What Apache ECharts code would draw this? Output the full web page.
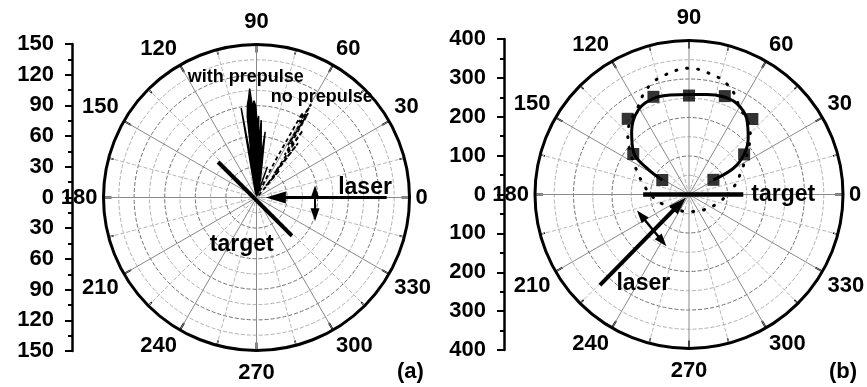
<!DOCTYPE html>
<html><head><meta charset="utf-8">
<script src="https://cdn.jsdelivr.net/npm/echarts@6/dist/echarts.min.js"></script>
<style>html,body{margin:0;padding:0;background:#fff}#c{width:867px;height:387px}</style>
</head><body><div id="c"></div>
<script>
// ---------- Panel (a) data ----------
const withPrepulseAngle = [70, 70.5, 72, 78, 82.5, 83.5, 86.5, 87.5, 88.5, 89.5, 90.5, 91.5, 92.5, 93.6, 94.5, 95.5, 96.5, 97.5, 99.7, 100.5, 103];
const withPrepulseR     = [2, 32, 3, 20, 65, 40, 76, 50, 80, 72, 90, 95, 88, 107, 98, 92, 80, 30, 89, 20, 3];
const noPrepulseAngle = [45, 49.8, 51, 52.6, 53.5, 55.4, 56.5, 58.5, 59, 59.6, 60.5, 61.5, 63, 66];
const noPrepulseR     = [3, 35, 15, 67, 30, 80, 50, 97, 60, 106, 85, 95, 40, 3];
// annotation lines (radius, angle)
const targetA_R = [51.3, 51.3], targetA_Angle = [137.3, 312.7];
const laserA_R = [127.6, 19], laserA_Angle = [0, 0];
const polA_R = [57.6, 59.8], polA_Angle = [5.4, 343.6];
const textA = ['with prepulse', 'no prepulse', 'laser', 'target'];
const textA_R = [118.9, 117.7, 106.8, 48.8];
const textA_Angle = [95.1, 57.1, 5.0, 252.7];
const textA_Size = [18, 18, 23, 23];
// left scale ticks (a): min, max, step
const scaleA = [-150, 150, 30];

// ---------- Panel (b) data ----------
const squareAngle = [31, 36, 50, 70, 90, 110, 129, 144, 151.5];
const squareR     = [74, 177, 256, 272, 257, 270, 253, 179, 79];
const fitAngle = [31, 30.6, 36, 43.5, 52.9, 62.4, 70.7, 80, 90, 100.8, 110.4, 121, 132.4, 142.5, 148, 151.5];
const fitR     = [74, 134, 177, 212, 248, 267, 269, 264, 260, 263, 266, 256, 221, 182, 129, 79];
const dotAngle = [0, 13, 25, 35, 45, 52, 60, 65, 71, 78, 90, 102, 109, 115, 120, 128, 135, 145, 157, 167, 180, 198, 225, 260, 290, 315, 343, 360];
const dotR     = [100, 125, 151, 185, 225, 245, 262, 284, 303, 316, 328, 316, 303, 284, 264, 245, 225, 185, 145, 122, 100, 75, 50, 45, 47, 56, 78, 100];
const targetB_R = [141, 119], targetB_Angle = [0, 180];
const laserB_R = [330, 34], laserB_Angle = [225.5, 225];
const polB_R = [135.8, 140], polB_Angle = [203.6, 240.3];
const textB = ['target', 'laser'];
const textB_R = [245, 259.5];
const textB_Angle = [0, 242.8];
const scaleB = [-400, 400, 100];

const F = '"Liberation Sans", Arial, Helvetica, sans-serif';
const FS = 22;
const zip = (r, a) => r.map((v, i) => [v, a[i]]);

function angleAxis(idx) {
  return {
    polarIndex: idx, type: 'value', min: 0, max: 360, interval: 30,
    startAngle: 0, clockwise: false,
    axisLine: {show: true, lineStyle: {color: '#000', width: 3}},
    axisTick: {show: true, inside: true, length: 8, lineStyle: {color: '#000', width: 2}},
    minorTick: {show: true, splitNumber: 2, length: 5, lineStyle: {color: '#000', width: 1.5}},
    splitLine: {show: true, lineStyle: {color: '#8a8a8a', width: 1}},
    minorSplitLine: {show: true, lineStyle: {color: '#b8b8b8', width: 1, type: 'dashed'}},
    axisLabel: {
      margin: 6, color: '#000', fontFamily: F, fontSize: FS, fontWeight: 'bold',
      formatter: v => v === 90 ? '{t|90}' : (v === 270 ? '{b|270}' : String(v)),
      rich: {
        t: {fontFamily: F, fontSize: FS, fontWeight: 'bold', color: '#000', padding: [0, 0, 6, 0]},
        b: {fontFamily: F, fontSize: FS, fontWeight: 'bold', color: '#000', padding: [5, 0, 0, 0]}
      }
    }
  };
}
function radiusAxis(idx, max, interval) {
  return {
    polarIndex: idx, type: 'value', min: 0, max: max, interval: interval,
    axisLine: {show: false}, axisTick: {show: false}, axisLabel: {show: false},
    splitLine: {show: true, lineStyle: {color: '#707070', width: 1, type: 'dashed'}},
    minorTick: {show: false, splitNumber: 2},
    minorSplitLine: {show: true, lineStyle: {color: '#b0b0b0', width: 1, type: 'dashed'}}
  };
}
function scaleAxis(idx, s) {
  return {
    gridIndex: idx, type: 'value', min: s[0], max: s[1], interval: s[2], position: 'left',
    axisLine: {show: true, onZero: false, lineStyle: {color: '#000', width: 2.5}},
    axisTick: {show: true, length: 7, lineStyle: {color: '#000', width: 2}},
    minorTick: {show: true, splitNumber: 2, length: 4, lineStyle: {color: '#000', width: 2}},
    splitLine: {show: false},
    axisLabel: {margin: 18, color: '#000', fontFamily: F, fontSize: FS, fontWeight: 'bold',
      formatter: v => String(Math.abs(v))}
  };
}
function arrowLine(idx, r, a, rotStart, rotEnd, size, width) {
  const pt = (i, rot) => rot === null
    ? {value: [r[i], a[i]], symbol: 'none'}
    : {value: [r[i], a[i]], symbol: 'triangle', symbolSize: size, symbolRotate: rot};
  return {
    type: 'line', coordinateSystem: 'polar', polarIndex: idx, silent: true,
    data: [pt(0, rotStart), pt(1, rotEnd)],
    lineStyle: {color: '#000', width: width}, itemStyle: {color: '#000'}, z: 5
  };
}
function texts(idx, t, r, a, sizes) {
  return {
    type: 'scatter', coordinateSystem: 'polar', polarIndex: idx, silent: true, clip: false,
    symbolSize: 0, itemStyle: {color: '#000', opacity: 1}, z: 10,
    data: t.map((s, i) => ({
      name: s, value: [r[i], a[i]],
      label: {show: true, position: 'inside', formatter: '{b}', color: '#000', opacity: 1,
        textBorderWidth: 0, fontFamily: F, fontWeight: 'bold', fontSize: sizes[i]}
    }))
  };
}

const chart = echarts.init(document.getElementById('c'), null, {renderer: 'canvas'});
chart.setOption({
  animation: false,
  backgroundColor: '#fff',
  title: [
    {text: '(a)', left: 397, top: 361, padding: 0, textStyle: {fontFamily: F, fontSize: FS, fontWeight: 'bold', color: '#000'}},
    {text: '(b)', left: 829, top: 361, padding: 0, textStyle: {fontFamily: F, fontSize: FS, fontWeight: 'bold', color: '#000'}}
  ],
  polar: [
    {center: [256.5, 197.5], radius: 153},
    {center: [689, 194.5], radius: 154}
  ],
  angleAxis: [angleAxis(0), angleAxis(1)],
  radiusAxis: [radiusAxis(0, 150, 30), radiusAxis(1, 400, 100)],
  grid: [
    {left: 72, top: 44, width: 2, height: 307},
    {left: 504, top: 39, width: 2, height: 311}
  ],
  xAxis: [
    {gridIndex: 0, type: 'value', show: false, min: 0, max: 1},
    {gridIndex: 1, type: 'value', show: false, min: 0, max: 1}
  ],
  yAxis: [scaleAxis(0, scaleA), scaleAxis(1, scaleB)],
  series: [
    {
      name: 'with prepulse', type: 'line', coordinateSystem: 'polar', polarIndex: 0,
      data: zip(withPrepulseR, withPrepulseAngle), symbol: 'none',
      lineStyle: {color: '#000', width: 1.5}, areaStyle: {color: '#000', opacity: 1}, z: 3
    },
    {
      name: 'no prepulse', type: 'line', coordinateSystem: 'polar', polarIndex: 0,
      data: zip(noPrepulseR, noPrepulseAngle), symbol: 'none',
      lineStyle: {color: '#000', width: 1.8, type: [4, 3]}, z: 3
    },
    {
      type: 'line', coordinateSystem: 'polar', polarIndex: 0, silent: true,
      data: zip(targetA_R, targetA_Angle), symbol: 'none',
      lineStyle: {color: '#000', width: 4}, z: 4
    },
    arrowLine(0, laserA_R, laserA_Angle, null, 90, [12, 20], 3),
    arrowLine(0, polA_R, polA_Angle, 0, 180, [9, 13], 2),
    texts(0, textA, textA_R, textA_Angle, textA_Size),

    {
      name: 'dotted', type: 'line', coordinateSystem: 'polar', polarIndex: 1,
      data: zip(dotR, dotAngle), symbol: 'none', smooth: 0.4,
      lineStyle: {color: '#000', width: 3, type: [1, 10], cap: 'round'}, z: 3
    },
    {
      name: 'fit', type: 'line', coordinateSystem: 'polar', polarIndex: 1,
      data: zip(fitR, fitAngle), symbol: 'none', smooth: 0.4,
      lineStyle: {color: '#000', width: 3}, z: 3
    },
    {
      name: 'measured', type: 'scatter', coordinateSystem: 'polar', polarIndex: 1,
      data: zip(squareR, squareAngle), symbol: 'rect', symbolSize: 12,
      itemStyle: {color: '#000'}, z: 4
    },
    {
      type: 'line', coordinateSystem: 'polar', polarIndex: 1, silent: true,
      data: zip(targetB_R, targetB_Angle), symbol: 'none',
      lineStyle: {color: '#000', width: 4.5}, z: 4
    },
    arrowLine(1, laserB_R, laserB_Angle, null, -45, [12, 18], 4),
    arrowLine(1, polB_R, polB_Angle, 39.3, -140.7, [9, 13], 2.5),
    texts(1, textB, textB_R, textB_Angle, [23, 23])
  ]
});
</script></body></html>
